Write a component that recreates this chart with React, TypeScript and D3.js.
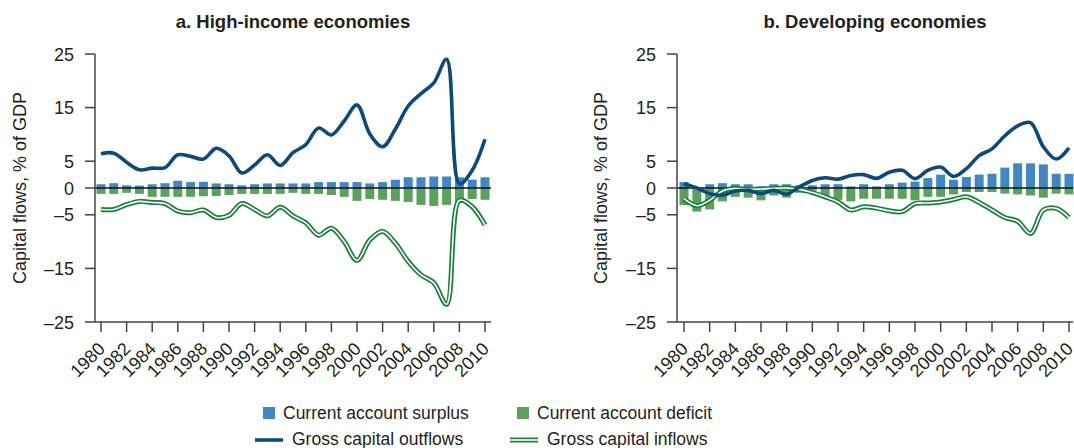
import React from "react";
import * as d3 from "d3";

const years = [
  1980, 1981, 1982, 1983, 1984, 1985, 1986, 1987, 1988, 1989, 1990, 1991, 1992, 1993, 1994, 1995,
  1996, 1997, 1998, 1999, 2000, 2001, 2002, 2003, 2004, 2005, 2006, 2007, 2008, 2009, 2010,
];
const yearTicks = [1980, 1982, 1984, 1986, 1988, 1990, 1992, 1994, 1996, 1998, 2000, 2002, 2004, 2006, 2008, 2010];
const yTicks = [25, 15, 5, 0, -5, -15, -25];

// a. High-income economies
const highSurplus = [
  0.7, 0.9, 0.5, 0.45, 0.7, 0.9, 1.35, 1.1, 1.15, 0.85, 0.7, 0.5, 0.7, 0.85, 0.85, 0.85,
  0.85, 1.1, 1.1, 1.1, 1.1, 0.85, 1.1, 1.55, 2.0, 2.0, 2.15, 2.15, 2.0, 1.55, 2.0,
];
const highDeficit = [
  1.1, 1.1, 0.9, 1.1, 1.65, 1.65, 1.65, 1.65, 1.55, 1.5, 1.3, 1.1, 1.1, 1.1, 1.1, 0.9,
  1.1, 1.1, 1.3, 1.65, 2.4, 2.05, 2.2, 2.4, 2.6, 3.15, 3.35, 3.15, 2.8, 2.05, 2.2,
];
const highOutflows = [
  6.4, 6.5, 4.8, 3.4, 3.7, 3.8, 6.2, 5.9, 5.4, 7.4, 6.0, 2.8, 4.3, 6.2, 4.2, 6.6,
  8.1, 11.2, 9.9, 12.5, 15.5, 10.1, 7.7, 11.0, 15.3, 17.6, 19.6, 24.0, 0.8, 3.3, 9.1,
];
const highInflows = [
  -4.0, -4.0, -3.1, -2.5, -2.7, -2.9, -4.3, -4.6, -4.1, -5.5, -5.1, -2.9, -4.0, -5.2, -3.6, -5.2,
  -6.5, -8.8, -7.5, -10.0, -13.5, -9.7, -8.1, -10.3, -13.7, -16.2, -17.7, -21.7, -2.3, -3.5, -6.9,
];

// b. Developing economies
const devSurplus = [
  1.1, 0.0, 0.7, 0.9, 0.7, 0.7, 0.3, 0.7, 0.7, 0.5, 0.5, 0.7, 0.7, 0.3, 0.7, 0.3,
  0.7, 1.0, 1.2, 1.85, 2.5, 1.55, 2.05, 2.5, 2.65, 3.8, 4.6, 4.6, 4.4, 2.65, 2.65,
];
const devDeficit = [
  3.2, 4.4, 4.0, 2.5, 1.65, 1.8, 2.3, 1.4, 1.8, 0.9, 0.5, 1.8, 2.2, 2.5, 2.0, 2.0,
  2.0, 2.0, 2.3, 1.65, 1.65, 1.2, 0.75, 0.75, 0.75, 1.05, 1.2, 1.4, 1.8, 1.05, 1.2,
];
const devOutflows = [
  0.8, 0.0, -1.05, -1.35, -0.55, -0.45, -1.05, -0.45, -1.15, 0.2, 1.4, 1.9, 1.65, 2.35, 2.5, 1.8,
  2.95, 3.3, 1.75, 3.3, 3.9, 2.15, 3.6, 6.05, 7.3, 9.75, 11.6, 12.2, 7.7, 5.4, 7.5,
];
const devInflows = [
  -2.0, -3.3, -2.3, -0.55, -0.1, -0.25, -0.2, -0.05, 0.0, -0.25, -0.85, -1.65, -2.6, -4.1, -3.5, -3.75,
  -4.25, -4.4, -2.9, -2.8, -2.6, -2.15, -1.65, -2.7, -4.1, -5.5, -6.2, -8.5, -4.1, -3.8, -5.5,
];

const C_SURPLUS = "#3f88c5";
const C_DEFICIT = "#5aa25a";
const C_OUT = "#0a4a7f";
const C_IN = "#17813c";
const C_AXIS = "#444";
const C_TEXT = "#231f20";
const FONT = "'Liberation Sans', Arial, sans-serif";

interface PanelProps {
  title: string;
  surplus: number[];
  deficit: number[];
  outflows: number[];
  inflows: number[];
  axisX: number;
  x0: number;
  x1: number;
  right: number;
  labelX: number;
}

function Panel({ title, surplus, deficit, outflows, inflows, axisX, x0, x1, right, labelX }: PanelProps) {
  const x = d3.scaleLinear().domain([1980, 2010]).range([x0, x1]);
  const y = d3.scaleLinear().domain([-25, 25]).range([322, 54]);
  const line = d3
    .line<number>()
    .x((_, i) => x(years[i]))
    .y((d) => y(d))
    .curve(d3.curveCatmullRom.alpha(0.5));
  const bw = 9;
  const bottom = y(-25);

  return (
    <g>
      <text x={(axisX + right) / 2} y={28} textAnchor="middle" fontWeight="bold" fontSize={18.5} fill={C_TEXT} fontFamily={FONT}>
        {title}
      </text>
      <text
        transform={`translate(${labelX},188) rotate(-90)`}
        textAnchor="middle"
        fontSize={18}
        fill={C_TEXT}
        fontFamily={FONT}
      >
        Capital flows, % of GDP
      </text>
      {surplus.map((v, i) => (
        <rect key={`s${i}`} x={x(years[i]) - bw / 2} width={bw} y={y(v)} height={y(0) - y(v)} fill={C_SURPLUS} />
      ))}
      {deficit.map((v, i) => (
        <rect key={`d${i}`} x={x(years[i]) - bw / 2} width={bw} y={y(0)} height={y(-v) - y(0)} fill={C_DEFICIT} />
      ))}
      <line x1={axisX} x2={right} y1={y(0)} y2={y(0)} stroke="#111" strokeWidth={1.5} />
      <path d={line(inflows) ?? ""} fill="none" stroke={C_IN} strokeWidth={5} />
      <path d={line(inflows) ?? ""} fill="none" stroke="#fff" strokeWidth={1.6} />
      <path d={line(outflows) ?? ""} fill="none" stroke={C_OUT} strokeWidth={3.6} strokeLinejoin="round" />
      {/* axes */}
      <line x1={axisX} x2={axisX} y1={y(25)} y2={bottom} stroke={C_AXIS} strokeWidth={1.5} />
      <line x1={axisX} x2={right} y1={bottom} y2={bottom} stroke={C_AXIS} strokeWidth={1.5} />
      {yTicks.map((t) => (
        <g key={`y${t}`}>
          <line x1={axisX - 10} x2={axisX} y1={y(t)} y2={y(t)} stroke={C_AXIS} strokeWidth={1.5} />
          <text x={axisX - 21} y={y(t) + 6.5} textAnchor="end" fontSize={18} fill={C_TEXT} fontFamily={FONT}>
            {t < 0 ? `\u2013${Math.abs(t)}` : t}
          </text>
        </g>
      ))}
      {yearTicks.map((t) => (
        <g key={`x${t}`}>
          <line x1={x(t)} x2={x(t)} y1={bottom} y2={bottom + 10} stroke={C_AXIS} strokeWidth={1.5} />
          <text
            transform={`translate(${x(t) + 5},${bottom + 28}) rotate(-45)`}
            textAnchor="end"
            fontSize={18}
            fill={C_TEXT}
            fontFamily={FONT}
          >
            {t}
          </text>
        </g>
      ))}
    </g>
  );
}

export default function App() {
  return (
    <svg
      width={1074}
      height={448}
      viewBox="0 0 1074 448"
      style={{ position: "absolute", left: 0, top: 0, background: "#fff" }}
    >
      <Panel
        title="a. High-income economies"
        surplus={highSurplus}
        deficit={highDeficit}
        outflows={highOutflows}
        inflows={highInflows}
        axisX={95}
        x0={101}
        x1={485}
        right={491}
        labelX={26}
      />
      <Panel
        title="b. Developing economies"
        surplus={devSurplus}
        deficit={devDeficit}
        outflows={devOutflows}
        inflows={devInflows}
        axisX={677}
        x0={684}
        x1={1069}
        right={1073}
        labelX={607}
      />
      <g fontFamily={FONT} fontSize={17.5} fill={C_TEXT}>
        <rect x={263} y={407} width={12} height={12} fill={C_SURPLUS} />
        <text x={283} y={419}>Current account surplus</text>
        <rect x={517} y={407} width={12} height={12} fill={C_DEFICIT} />
        <text x={537} y={419}>Current account deficit</text>
        <line x1={255} x2={283} y1={440} y2={440} stroke={C_OUT} strokeWidth={3.6} />
        <text x={292} y={445}>Gross capital outflows</text>
        <line x1={510} x2={538} y1={440} y2={440} stroke={C_IN} strokeWidth={5} />
        <line x1={510} x2={538} y1={440} y2={440} stroke="#fff" strokeWidth={1.6} />
        <text x={547} y={445}>Gross capital inflows</text>
      </g>
    </svg>
  );
}
